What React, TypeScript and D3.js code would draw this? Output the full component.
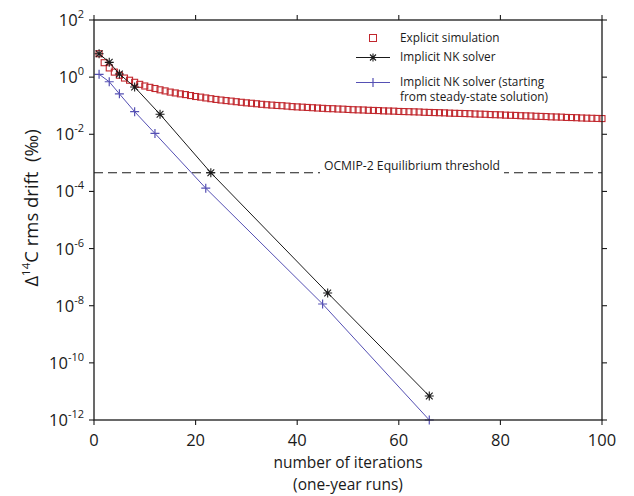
import { useEffect, useRef } from "react";
import * as d3 from "d3";

const WIDTH = 634;
const HEIGHT = 496;

// explicit simulation: drift after each one-year run (iterations 1..100)
const explicitIter = d3.range(1, 101);
const explicitDrift = [
  6.6, 3.2, 2.1, 1.5, 1.17, 0.93, 0.78, 0.66, 0.56, 0.49,
  0.44, 0.4, 0.36, 0.33, 0.3, 0.28, 0.26, 0.245, 0.227, 0.21,
  0.2, 0.187, 0.176, 0.166, 0.158, 0.151, 0.145, 0.138, 0.132, 0.126,
  0.122, 0.117, 0.112, 0.108, 0.105, 0.102, 0.1, 0.097, 0.093, 0.091,
  0.089, 0.087, 0.085, 0.083, 0.081, 0.079, 0.0785, 0.0767, 0.0758, 0.074,
  0.0724, 0.0716, 0.0708, 0.0692, 0.0684, 0.0676, 0.066, 0.0653, 0.0646, 0.063,
  0.0624, 0.0617, 0.061, 0.0603, 0.0589, 0.0582, 0.0575, 0.0569, 0.0562, 0.055,
  0.0543, 0.0537, 0.0531, 0.0525, 0.0513, 0.0507, 0.0501, 0.049, 0.0484, 0.0479,
  0.0468, 0.0462, 0.0457, 0.0447, 0.0442, 0.0437, 0.0427, 0.0422, 0.0417, 0.0407,
  0.0403, 0.0398, 0.0389, 0.0385, 0.038, 0.0372, 0.0367, 0.0363, 0.0359, 0.0355,
];

// implicit Newton-Krylov solver
const nkIter = [1, 3, 5, 8, 13, 23, 46, 66];
const nkDrift = [6.6, 3.3, 1.29, 0.45, 0.05, 4.5e-4, 2.8e-8, 6.9e-12];

// implicit NK solver started from the steady-state solution
const nkSteadyIter = [1, 3, 5, 8, 12, 22, 45, 66];
const nkSteadyDrift = [1.26, 0.69, 0.26, 0.062, 0.0107, 1.3e-4, 1.15e-8, 1e-12];

const threshold = 4.5e-4;

const xTicks = [0, 20, 40, 60, 80, 100];
const yTickExp = [2, 0, -2, -4, -6, -8, -10, -12];

const legendLabels = [
  ["Explicit simulation"],
  ["Implicit NK solver"],
  ["Implicit NK solver (starting", "from steady-state solution)"],
];

const RED = "#c1272d";
const BLUE = "#5550b4";
const BLACK = "#1a1a1a";
const FONT = "'Open Sans', sans-serif";

const drawStar = (g, x, y, r) => {
  const p = `M${x - r},${y}H${x + r}M${x},${y - r}V${y + r}` +
    `M${x - r * 0.75},${y - r * 0.75}L${x + r * 0.75},${y + r * 0.75}` +
    `M${x - r * 0.75},${y + r * 0.75}L${x + r * 0.75},${y - r * 0.75}`;
  g.append("path").attr("d", p).attr("stroke", BLACK).attr("stroke-width", 1.1);
};

const drawPlus = (g, x, y, r) => {
  g.append("path")
    .attr("d", `M${x - r},${y}H${x + r}M${x},${y - r}V${y + r}`)
    .attr("stroke", BLUE)
    .attr("stroke-width", 1.2);
};

const App = () => {
  const ref = useRef(null);

  useEffect(() => {
    const svg = d3.select(ref.current);
    svg.selectAll("*").remove();

    const left = 94, right = 602, top = 20, bottom = 420;
    const x = d3.scaleLinear().domain([0, 100]).range([left, right]);
    const y = d3.scaleLog().domain([1e-12, 1e2]).range([bottom, top]);

    svg.append("rect").attr("width", WIDTH).attr("height", HEIGHT).attr("fill", "white");

    // threshold line with a gap for its label
    svg.append("line")
      .attr("x1", left).attr("x2", right)
      .attr("y1", y(threshold)).attr("y2", y(threshold))
      .attr("stroke", BLACK).attr("stroke-width", 1)
      .attr("stroke-dasharray", "9,5");
    svg.append("rect")
      .attr("x", 320).attr("y", y(threshold) - 14)
      .attr("width", 184).attr("height", 16)
      .attr("fill", "white");
    svg.append("text")
      .attr("x", 412).attr("y", y(threshold) - 3)
      .attr("text-anchor", "middle")
      .attr("font-family", FONT).attr("font-size", 12.2)
      .attr("fill", BLACK)
      .text("OCMIP-2 Equilibrium threshold");

    // explicit simulation squares
    const sq = 6;
    svg.append("g")
      .selectAll("rect")
      .data(explicitIter)
      .join("rect")
      .attr("x", (d) => x(d) - sq / 2)
      .attr("y", (d, i) => y(explicitDrift[i]) - sq / 2)
      .attr("width", sq).attr("height", sq)
      .attr("fill", "none")
      .attr("stroke", RED)
      .attr("stroke-width", 1.1);

    const line = d3.line().x((d) => x(d[0])).y((d) => y(d[1]));

    const nk = d3.zip(nkIter, nkDrift);
    svg.append("path").attr("d", line(nk)).attr("fill", "none")
      .attr("stroke", BLACK).attr("stroke-width", 1);
    const nkG = svg.append("g");
    nk.forEach((d) => drawStar(nkG, x(d[0]), y(d[1]), 4.5));

    const nks = d3.zip(nkSteadyIter, nkSteadyDrift);
    svg.append("path").attr("d", line(nks)).attr("fill", "none")
      .attr("stroke", BLUE).attr("stroke-width", 1);
    const nksG = svg.append("g");
    nks.forEach((d) => drawPlus(nksG, x(d[0]), y(d[1]), 4.5));

    // frame
    svg.append("rect")
      .attr("x", left).attr("y", top)
      .attr("width", right - left).attr("height", bottom - top)
      .attr("fill", "none").attr("stroke", BLACK).attr("stroke-width", 1.3);

    // ticks, outward on every side
    const tk = 5;
    const ticks = svg.append("g").attr("stroke", BLACK).attr("stroke-width", 1.1);
    xTicks.forEach((t) => {
      ticks.append("line").attr("x1", x(t)).attr("x2", x(t)).attr("y1", bottom).attr("y2", bottom + tk);
      ticks.append("line").attr("x1", x(t)).attr("x2", x(t)).attr("y1", top).attr("y2", top - tk);
    });
    yTickExp.forEach((e) => {
      const yy = y(Math.pow(10, e));
      ticks.append("line").attr("x1", left).attr("x2", left - tk).attr("y1", yy).attr("y2", yy);
      ticks.append("line").attr("x1", right).attr("x2", right + tk).attr("y1", yy).attr("y2", yy);
    });

    svg.append("g")
      .selectAll("text")
      .data(xTicks)
      .join("text")
      .attr("x", (d) => x(d))
      .attr("y", 446)
      .attr("text-anchor", "middle")
      .attr("font-family", FONT).attr("font-size", 16.5)
      .attr("fill", BLACK)
      .text((d) => d);

    const yl = svg.append("g").attr("font-family", FONT).attr("fill", BLACK);
    yTickExp.forEach((e) => {
      const t = yl.append("text")
        .attr("x", 84).attr("y", y(Math.pow(10, e)) + 6)
        .attr("text-anchor", "end")
        .attr("font-size", 16.5);
      t.append("tspan").text("10");
      t.append("tspan").attr("dy", -8).attr("font-size", 11).text(e);
    });

    // axis titles
    const xt = svg.append("g")
      .attr("text-anchor", "middle")
      .attr("font-family", FONT).attr("font-size", 15.5)
      .attr("fill", BLACK);
    xt.append("text").attr("x", (left + right) / 2).attr("y", 468).text("number of iterations");
    xt.append("text").attr("x", (left + right) / 2).attr("y", 490).text("(one-year runs)");

    const ytl = svg.append("text")
      .attr("transform", "translate(38,208) rotate(-90)")
      .attr("text-anchor", "middle")
      .attr("font-family", FONT).attr("font-size", 18.5)
      .attr("fill", BLACK)
      .attr("xml:space", "preserve");
    ytl.append("tspan").text("\u0394");
    ytl.append("tspan").attr("dy", -8).attr("font-size", 11.5).text("14");
    ytl.append("tspan").attr("dy", 8).text("C rms drift  (\u2030)");

    // legend
    const lg = svg.append("g").attr("font-family", FONT).attr("font-size", 11.8).attr("fill", BLACK);
    const lx = 373, tx = 400;
    const rows = [38, 57.5, 82.5];
    lg.append("rect")
      .attr("x", lx - 3.5).attr("y", rows[0] - 3.5)
      .attr("width", 7).attr("height", 7)
      .attr("fill", "none").attr("stroke", RED).attr("stroke-width", 1);
    lg.append("line").attr("x1", lx - 17).attr("x2", lx + 17)
      .attr("y1", rows[1]).attr("y2", rows[1]).attr("stroke", BLACK);
    drawStar(lg, lx, rows[1], 4);
    lg.append("line").attr("x1", lx - 17).attr("x2", lx + 17)
      .attr("y1", rows[2]).attr("y2", rows[2]).attr("stroke", BLUE);
    drawPlus(lg, lx, rows[2], 4.5);
    legendLabels.forEach((lines, i) => {
      lines.forEach((s, j) => {
        lg.append("text")
          .attr("x", tx).attr("y", rows[i] + 3.5 + j * 14.5)
          .text(s);
      });
    });
  }, []);

  return (
    <svg
      ref={ref}
      width={WIDTH}
      height={HEIGHT}
      style={{ position: "absolute", left: 0, top: 0 }}
    />
  );
};

export default App;
